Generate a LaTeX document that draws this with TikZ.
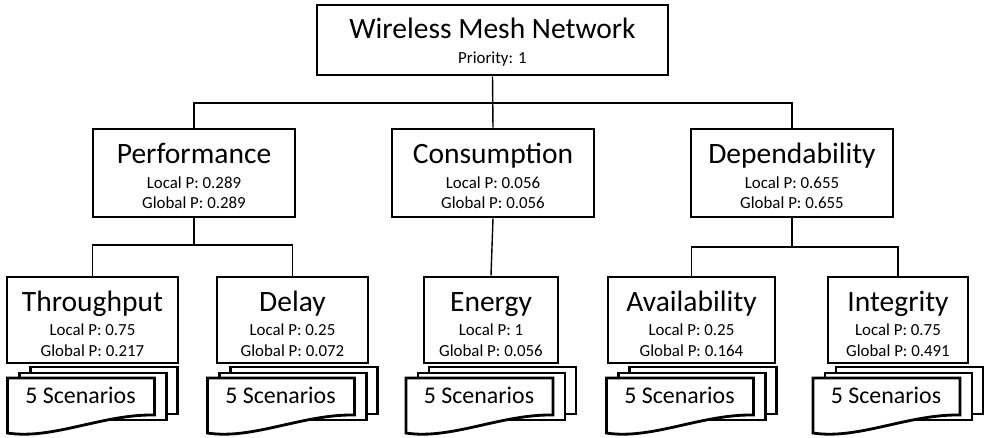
\documentclass[tikz,border=0pt]{standalone}
\usepackage{fontspec}
\setmainfont{Carlito}
\usetikzlibrary{positioning}

\tikzset{
  box/.style={draw,line width=2pt,fill=white,inner sep=0pt},
  sheet/.style={draw,line width=2pt,fill=white},
  link/.style={line width=1pt},
  big/.style={anchor=base,inner sep=0pt,font=\fontsize{21}{24}\selectfont},
  small/.style={anchor=base,inner sep=0pt,font=\fontsize{12}{14}\selectfont},
  scen/.style={anchor=base,inner sep=0pt,font=\fontsize{17}{20}\selectfont}
}

\begin{document}
\begin{tikzpicture}[x=0.025cm,y=-0.025cm]
      \useasboundingbox (0,0) rectangle (985,437);

      % goal
      \node[box,minimum width=8.775cm,minimum height=1.75cm] (wmn) at (492.5,40) {};
      \node[big] (wmn-t) at (492.5,38) {Wireless Mesh Network};
      \node[small] (wmn-p) at (492.5,63) {Priority: 1};

      % criteria
      \foreach \n/\c/\name/\loc/\glob in {perf/194/Performance/0.289/0.289,cons/493/Consumption/0.056/0.056,dep/792/Dependability/0.655/0.655}
      {
      \node[box,minimum width=5.05cm,minimum height=2.2cm] (\n) at (\c,173) {};
      \node[big] (\n-t) at (\c,163) {\name};
      \node[small] (\n-l) at (\c,188) {Local P: \loc};
      \node[small] (\n-g) at (\c,208) {Global P: \glob};
      }

      % sub-criteria with scenario stacks
      \foreach \n/\c/\w/\name/\loc/\glob in {thr/92.5/4.275/Throughput/0.75/0.217,del/292.5/3.775/Delay/0.25/0.072,ene/491/3.35/Energy/1/0.056,ava/691.5/4.175/Availability/0.25/0.164,int/898/3.5/Integrity/0.75/0.491}
      {
      \draw[sheet] ({\c-62},367) rectangle ({\c+85},414);
      \draw[sheet] ({\c-73},373) rectangle ({\c+74},420);
      \draw[sheet] ({\c-85},378) -- ({\c+62},378) -- ({\c+62},415)
        .. controls ({\c+10},414) and ({\c-40},440) .. ({\c-85},433) -- cycle;
      \node[scen] (\n-s) at ({\c-12},403) {5 Scenarios};

      \node[box,minimum width=\w cm,minimum height=2.15cm] (\n) at (\c,320) {};
      \node[big] (\n-t) at (\c,311) {\name};
      \node[small] (\n-l) at (\c,335) {Local P: \loc};
      \node[small] (\n-g) at (\c,356) {Global P: \glob};
      }

      \coordinate (bus0) at (492.5,103);
      \coordinate (bus1) at (194,245);
      \coordinate (bus3) at (792,247);

      \draw[link] (wmn.south) -- (cons.north);
      \foreach \to in {perf,dep}
      \draw[link] (bus0) -| (\to.north);

      \draw[link] (perf.south) -- (bus1);
      \foreach \to in {thr,del}
      \draw[link] (bus1) -| (\to.north);

      \draw[link] (cons.south) -- (ene.north);

      \draw[link] (dep.south) -- (bus3);
      \foreach \to in {ava,int}
      \draw[link] (bus3) -| (\to.north);
  \end{tikzpicture}
\end{document}
